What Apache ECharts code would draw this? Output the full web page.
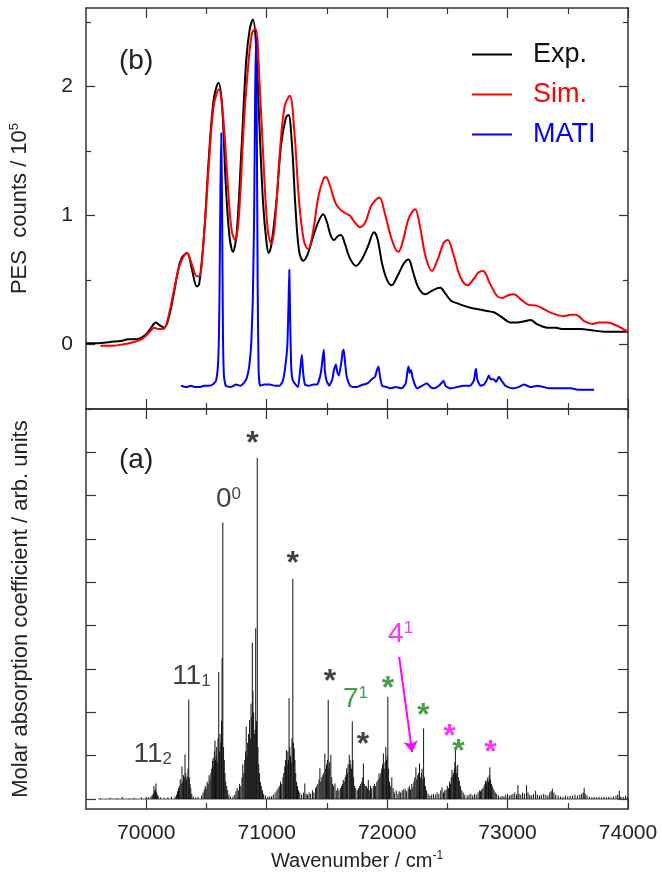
<!DOCTYPE html>
<html>
<head>
<meta charset="utf-8">
<script src="https://cdn.jsdelivr.net/npm/echarts@6/dist/echarts.min.js"></script>
<style>html,body{margin:0;padding:0;background:#fff}#c{width:662px;height:881px}</style>
</head>
<body>
<div id="c"></div>
<script>
// ---------- axis ranges & ticks ----------
const X_MIN = 69500, X_MAX = 74000;
const xMajor = [70000, 71000, 72000, 73000, 74000];
const xMinor = [70500, 71500, 72500, 73500];
const pesMajor = [0, 1, 2];
const pesMinor = [-0.5, 0.5, 1.5, 2.5];
const absTicks = [0, 1, 2, 3, 4, 5, 6, 7, 8];

// ---------- (b) PES panel ----------
const expCurve = [
[69500,0.01],[69600,0.01],[69700,0.02],[69800,0.03],[69850,0.04],[69900,0.04],[69950,0.05],[70000,0.08],[70040,0.13],[70080,0.17],[70110,0.15],[70150,0.13],
[70190,0.22],[70230,0.40],[70270,0.60],[70300,0.68],[70340,0.71],[70380,0.58],[70420,0.45],[70440,0.47],[70480,0.85],[70520,1.45],[70560,1.90],[70600,2.03],
[70630,1.85],[70660,1.25],[70690,0.85],[70720,0.72],[70750,0.85],[70790,1.50],[70830,2.20],[70860,2.45],[70886,2.52],[70910,2.35],[70940,1.70],[70970,1.10],
[71000,0.78],[71017,0.71],[71040,0.78],[71080,1.10],[71120,1.55],[71160,1.76],[71181,1.78],[71210,1.55],[71240,1.05],[71270,0.72],[71303,0.65],[71340,0.70],
[71380,0.82],[71420,0.93],[71469,1.01],[71500,0.95],[71530,0.85],[71558,0.81],[71590,0.84],[71617,0.85],[71650,0.78],[71690,0.67],[71742,0.61],[71790,0.66],
[71840,0.76],[71892,0.87],[71920,0.82],[71960,0.62],[72000,0.50],[72039,0.46],[72080,0.52],[72140,0.63],[72178,0.66],[72210,0.58],[72250,0.46],[72290,0.40],
[72317,0.39],[72360,0.41],[72400,0.43],[72442,0.44],[72480,0.40],[72530,0.34],[72581,0.32],[72640,0.30],[72719,0.28],[72780,0.27],[72830,0.26],[72886,0.25],
[72940,0.22],[73000,0.18],[73025,0.17],[73080,0.17],[73140,0.18],[73192,0.19],[73240,0.16],[73290,0.14],[73331,0.13],[73400,0.13],[73460,0.12],[73530,0.12],
[73608,0.12],[73700,0.11],[73803,0.10],[73900,0.10],[74000,0.10]
];
const simCurve = [
[69620,-0.01],[69700,-0.01],[69800,0.00],[69900,0.02],[69960,0.04],[70000,0.07],[70040,0.11],[70067,0.13],[70100,0.12],[70142,0.12],[70180,0.20],[70230,0.42],
[70280,0.62],[70339,0.71],[70380,0.62],[70420,0.53],[70440,0.53],[70480,0.85],[70520,1.40],[70560,1.85],[70603,1.98],[70640,1.75],[70680,1.20],[70710,0.88],
[70739,0.81],[70770,1.00],[70810,1.70],[70850,2.20],[70880,2.42],[70908,2.45],[70940,2.05],[70980,1.30],[71010,0.88],[71039,0.78],[71070,0.95],[71110,1.50],
[71150,1.85],[71192,1.93],[71230,1.65],[71270,1.10],[71310,0.80],[71344,0.74],[71380,0.85],[71430,1.15],[71470,1.28],[71492,1.30],[71530,1.22],[71570,1.10],
[71608,1.05],[71650,1.02],[71690,1.00],[71730,0.95],[71775,0.91],[71820,0.95],[71870,1.08],[71936,1.14],[71980,1.02],[72030,0.84],[72070,0.74],[72094,0.72],
[72130,0.80],[72180,0.98],[72233,1.05],[72270,0.93],[72320,0.68],[72372,0.57],[72420,0.66],[72470,0.79],[72503,0.81],[72550,0.70],[72610,0.52],[72669,0.46],
[72720,0.51],[72760,0.56],[72797,0.57],[72850,0.48],[72910,0.38],[72956,0.36],[73000,0.38],[73053,0.39],[73110,0.35],[73170,0.31],[73247,0.30],[73310,0.27],
[73380,0.24],[73469,0.22],[73520,0.23],[73567,0.23],[73640,0.18],[73706,0.16],[73760,0.17],[73831,0.17],[73900,0.15],[73960,0.12],[74000,0.10]
];
const matiCurve = [
[70289,-0.32],[70330,-0.33],[70370,-0.32],[70410,-0.33],[70442,-0.33],[70480,-0.32],[70520,-0.32],[70553,-0.31],[70580,-0.28],[70598,-0.12],[70608,0.35],[70616,1.20],
[70623,1.64],[70630,1.05],[70637,0.10],[70645,-0.24],[70660,-0.32],[70700,-0.33],[70747,-0.31],[70780,-0.32],[70810,-0.30],[70835,-0.26],[70855,-0.17],[70872,0.01],
[70885,0.35],[70896,1.00],[70904,1.90],[70911,2.38],[70918,1.70],[70925,0.50],[70933,-0.20],[70945,-0.32],[70980,-0.31],[71025,-0.31],[71070,-0.32],[71108,-0.32],
[71135,-0.28],[71155,-0.17],[71172,0.00],[71181,0.30],[71188,0.58],[71195,0.20],[71203,-0.15],[71214,-0.27],[71240,-0.31],[71261,-0.33],[71280,-0.18],[71292,-0.08],
[71303,-0.22],[71318,-0.31],[71350,-0.32],[71390,-0.31],[71420,-0.31],[71450,-0.22],[71468,-0.08],[71475,-0.04],[71483,-0.20],[71497,-0.28],[71520,-0.32],[71545,-0.27],
[71558,-0.20],[71575,-0.155],[71588,-0.22],[71600,-0.24],[71618,-0.15],[71632,-0.05],[71640,-0.04],[71652,-0.15],[71665,-0.25],[71692,-0.32],[71720,-0.33],[71747,-0.33],
[71775,-0.32],[71803,-0.31],[71840,-0.30],[71872,-0.27],[71900,-0.25],[71915,-0.20],[71928,-0.17],[71945,-0.27],[71960,-0.32],[72000,-0.33],[72025,-0.34],[72070,-0.33],
[72122,-0.34],[72155,-0.30],[72170,-0.20],[72178,-0.17],[72188,-0.22],[72200,-0.20],[72210,-0.25],[72230,-0.31],[72250,-0.34],[72290,-0.32],[72331,-0.30],[72360,-0.33],
[72386,-0.34],[72430,-0.32],[72460,-0.29],[72469,-0.28],[72485,-0.32],[72525,-0.34],[72580,-0.33],[72636,-0.32],[72690,-0.32],[72720,-0.28],[72734,-0.20],[72739,-0.19],
[72748,-0.27],[72775,-0.32],[72805,-0.31],[72830,-0.27],[72844,-0.24],[72860,-0.27],[72886,-0.27],[72905,-0.29],[72928,-0.25],[72950,-0.28],[72983,-0.32],[73039,-0.34],
[73090,-0.33],[73136,-0.31],[73190,-0.33],[73247,-0.32],[73300,-0.33],[73350,-0.34],[73414,-0.34],[73480,-0.34],[73530,-0.34],[73581,-0.35],[73650,-0.35],[73719,-0.35]
];

// ---------- (a) absorption stick spectrum ----------
const absSticks = [
[69620,0.02],[69700,0.03],[69760,0.02],[69800,0.05],[69860,0.02],[69900,0.03],[69960,0.04],[70000,0.05],[70020,0.04],
[70040,0.06],[70050,0.09],[70058,0.13],[70064,0.30],[70070,0.18],[70076,0.22],[70081,0.36],[70086,0.16],[70092,0.10],[70100,0.06],[70120,0.04],[70150,0.03],[70180,0.04],[70210,0.05],
[70240,0.06],[70252,0.10],[70260,0.18],[70268,0.25],[70275,0.30],[70282,0.45],[70290,0.35],[70297,0.75],[70303,0.40],[70310,0.55],[70316,0.50],[70322,1.03],[70328,0.60],[70334,0.45],[70340,0.52],[70347,0.70],[70353,2.30],[70358,0.50],[70364,0.35],[70370,0.25],[70378,0.12],[70390,0.06],[70410,0.04],[70430,0.05],
[70460,0.08],[70472,0.15],[70482,0.22],[70490,0.30],[70498,0.25],[70506,0.40],[70514,0.35],[70522,0.55],[70530,0.45],[70537,0.60],[70544,0.70],[70550,0.88],[70556,0.95],[70561,0.75],[70566,1.10],[70571,1.35],[70575,0.90],[70580,1.00],[70585,1.20],[70590,0.85],[70596,1.40],[70602,2.93],[70608,1.10],[70613,1.50],[70619,1.30],[70625,1.80],[70630,3.25],[70636,6.38],[70642,1.20],[70648,0.90],[70654,0.60],[70660,0.40],[70668,0.30],[70676,0.20],[70686,0.10],[70700,0.06],
[70720,0.06],[70735,0.10],[70745,0.18],[70755,0.25],[70765,0.20],[70775,0.35],[70785,0.30],[70795,0.50],[70802,0.80],[70810,0.60],[70818,0.90],[70825,1.10],[70830,1.67],[70836,1.00],[70842,1.30],[70850,1.50],[70858,1.82],[70864,1.40],[70870,2.20],[70876,1.90],[70881,3.61],[70886,2.50],[70892,2.00],[70898,1.50],[70904,1.60],[70909,3.94],[70915,1.80],[70922,7.87],[70928,1.20],[70934,0.80],[70940,0.60],[70948,0.40],[70956,0.30],[70965,0.20],[70975,0.12],[70990,0.08],[71010,0.05],[71025,0.06],
[71040,0.06],[71055,0.10],[71070,0.15],[71085,0.20],[71095,0.25],[71105,0.30],[71115,0.40],[71125,0.35],[71135,0.50],[71142,0.60],[71150,0.75],[71157,0.90],[71164,1.13],[71170,0.80],[71176,1.10],[71181,0.90],[71186,2.33],[71192,1.20],[71198,1.00],[71204,0.85],[71210,1.40],[71217,5.08],[71223,1.30],[71229,1.17],[71235,0.90],[71241,0.60],[71248,0.40],[71256,0.30],[71265,0.20],[71275,0.15],[71290,0.10],
[71305,0.15],[71317,0.36],[71328,0.12],[71340,0.10],[71352,0.15],[71365,0.12],[71380,0.20],[71392,0.15],[71405,0.25],[71415,0.30],[71425,0.35],[71435,0.45],
[71442,0.71],[71450,0.40],[71458,0.50],[71466,0.55],[71474,0.60],[71483,1.05],[71490,0.70],[71497,0.80],[71504,0.90],[71511,2.29],[71517,0.70],[71523,0.85],[71533,1.02],[71540,0.50],[71548,0.35],[71556,0.30],[71567,0.36],[71578,0.20],[71590,0.25],[71600,0.20],
[71612,0.25],[71622,0.30],[71630,0.35],[71636,0.44],[71644,0.40],[71652,0.50],[71658,0.55],[71664,0.71],[71670,0.60],[71676,0.80],[71686,1.02],[71692,0.90],[71698,0.80],[71705,0.70],[71711,1.79],[71716,0.90],[71722,0.50],[71730,0.30],[71740,0.25],
[71752,0.20],[71762,0.25],[71772,0.30],[71780,0.35],[71790,0.40],[71797,0.50],[71803,0.82],[71810,0.35],[71819,0.30],[71828,0.30],[71838,0.25],[71844,0.44],[71852,0.20],[71862,0.30],[71872,0.25],
[71885,0.30],[71895,0.35],[71905,0.30],[71915,0.40],[71925,0.45],[71933,0.59],[71940,0.50],[71948,0.60],[71955,0.70],[71962,0.80],[71969,1.05],[71976,0.70],[71983,0.85],[71989,1.20],[71995,0.90],[72000,1.00],[72006,2.36],[72012,0.70],[72020,0.40],[72030,0.30],[72039,0.50],[72050,0.25],
[72060,0.15],[72075,0.20],[72090,0.12],[72100,0.18],[72112,0.15],[72125,0.20],[72138,0.22],[72150,0.24],[72162,0.18],[72175,0.25],[72185,0.30],[72195,0.22],[72205,0.35],[72214,0.27],[72222,0.40],[72230,0.50],[72239,0.73],[72246,0.45],[72254,0.55],[72262,0.60],[72269,0.82],[72276,0.50],[72284,0.60],[72290,0.70],[72297,0.45],[72303,1.63],[72310,0.50],[72318,0.30],[72328,0.20],[72340,0.12],
[72355,0.08],[72370,0.10],[72385,0.12],[72400,0.10],[72415,0.15],[72430,0.12],[72445,0.20],[72456,0.27],[72468,0.15],[72478,0.20],
[72490,0.22],[72500,0.30],[72510,0.25],[72518,0.40],[72526,0.35],[72532,0.50],[72539,0.67],[72546,0.55],[72552,0.60],[72558,0.70],[72563,0.85],[72567,1.13],[72572,0.75],[72578,0.60],[72586,0.79],[72592,0.50],[72600,0.42],[72610,0.30],[72620,0.20],[72632,0.15],[72645,0.10],
[72665,0.08],[72680,0.10],[72695,0.12],[72710,0.08],[72725,0.12],[72740,0.10],[72755,0.15],[72768,0.20],
[72775,0.18],[72785,0.22],[72795,0.25],[72805,0.30],[72812,0.35],[72817,0.42],[72824,0.38],[72830,0.45],[72836,0.50],[72842,0.40],[72848,0.55],[72853,0.73],[72859,0.45],[72866,0.35],[72872,0.30],[72880,0.25],[72888,0.20],[72898,0.15],[72910,0.12],[72925,0.08],
[72940,0.05],[72955,0.07],[72970,0.06],[72985,0.10],[73000,0.12],[73015,0.08],[73030,0.10],[73045,0.12],[73060,0.15],[73075,0.10],[73086,0.32],[73095,0.12],[73110,0.10],[73125,0.15],[73140,0.12],[73158,0.32],[73170,0.15],[73185,0.10],[73200,0.08],[73215,0.12],[73233,0.19],[73248,0.10],[73265,0.08],[73280,0.10],[73300,0.12],[73318,0.10],[73335,0.08],[73350,0.15],[73362,0.18],[73372,0.24],[73385,0.15],[73400,0.10],[73420,0.08],[73440,0.06],[73460,0.05],[73480,0.08],[73500,0.06],[73520,0.07],[73540,0.08],[73560,0.10],[73580,0.08],[73600,0.10],[73615,0.12],[73628,0.15],[73636,0.26],[73645,0.12],[73660,0.08],[73680,0.05],[73700,0.04],[73720,0.05],[73740,0.04],[73760,0.05],[73780,0.04],[73800,0.05],[73820,0.04],[73840,0.05],[73860,0.04],[73880,0.06],[73900,0.08],[73915,0.10],[73928,0.19],[73940,0.06],[73960,0.05],[73980,0.08],[73995,0.05]
];
const absBaseline = [[69600, 0], [74000, 0]];

// ---------- annotations in panel (a) ----------
const annoPos = [[70054,1.04],[70375,2.84],[70683,6.91],[70883,8.29],[71217,5.52],[71525,2.79],[71737,2.31],[71800,1.34],[72008,2.63],[72112,3.81],[72300,2.00],[72517,1.52],[72592,1.18],[72858,1.15]];
const annoText = ['11{sub|2}','11{sub|1}','0{sup|0}','*','*','*','7{sup|1}','*','*','4{sup|1}','*','*','*','*'];
const annoColor = ['#111','#111','#111','#111','#111','#111','#118a11','#111','#118a11','#ff00ff','#118a11','#ff00ff','#118a11','#ff00ff'];
const arrow41 = [[72100, 3.28], [72208, 1.08]];

const FONT = 'Liberation Sans, Arial, Helvetica, sans-serif';
const AX = '#333';

function xAxis(grid, pos, ticks, len, showLine, extra) {
  return Object.assign({
    type: 'value', gridIndex: grid, position: pos, min: X_MIN, max: X_MAX,
    axisLine: { show: showLine, onZero: false, lineStyle: { color: AX, width: 1.5 } },
    axisTick: { show: true, inside: true, length: len, customValues: ticks, lineStyle: { color: AX, width: 1.2 } },
    axisLabel: { show: false }, splitLine: { show: false }
  }, extra || {});
}
function yAxis(grid, pos, min, max, ticks, len, showLine, extra) {
  return Object.assign({
    type: 'value', gridIndex: grid, position: pos, min: min, max: max,
    axisLine: { show: showLine, onZero: false, lineStyle: { color: AX, width: 1.5 } },
    axisTick: { show: true, inside: true, length: len, customValues: ticks, lineStyle: { color: AX, width: 1.2 } },
    axisLabel: { show: false }, splitLine: { show: false }
  }, extra || {});
}

const chart = echarts.init(document.getElementById('c'), null, { renderer: 'canvas' });

const annoData = annoPos.map((p, i) => {
  const star = annoText[i] === '*';
  return {
    value: p,
    label: {
      color: annoColor[i], formatter: annoText[i],
      fontWeight: star ? 'bold' : 'normal',
      fontSize: star ? 32 : 28,
      offset: star ? [0, 4] : [0, 0]
    }
  };
});

chart.setOption({
  animation: false,
  backgroundColor: '#fff',
  textStyle: { fontFamily: FONT },
  title: [
    { text: '(b)', left: 114, top: 42, textStyle: { fontFamily: FONT, fontSize: 28, fontWeight: 'normal', color: '#222' } },
    { text: '(a)', left: 114, top: 441, textStyle: { fontFamily: FONT, fontSize: 28, fontWeight: 'normal', color: '#222' } }
  ],
  legend: {
    orient: 'vertical', left: 467, top: 36, itemWidth: 40, itemHeight: 2, itemGap: 13, icon: 'rect',
    textStyle: { fontFamily: FONT, fontSize: 27, padding: [0, 0, 0, 16] },
    data: [
      { name: 'Exp.', textStyle: { color: '#111' } },
      { name: 'Sim.', textStyle: { color: '#ff0000' } },
      { name: 'MATI', textStyle: { color: '#0000ff' } }
    ]
  },
  grid: [
    { left: 86, right: 34, top: 8, height: 401 },
    { left: 86, right: 34, top: 409, height: 400 }
  ],
  xAxis: [
    xAxis(0, 'bottom', xMajor, 10, true),
    xAxis(0, 'bottom', xMinor, 6, false),
    xAxis(0, 'top', xMajor, 10, true),
    xAxis(0, 'top', xMinor, 6, false),
    xAxis(1, 'bottom', xMajor, 10, true, {
      axisLabel: { show: true, customValues: xMajor, fontSize: 21, margin: 14, color: '#222', fontFamily: FONT, formatter: v => String(v) },
      name: 'Wavenumber / cm{sup|-1}', nameLocation: 'middle', nameGap: 41,
      nameTextStyle: { fontFamily: FONT, fontSize: 20, color: '#222', lineHeight: 22, rich: { sup: { fontSize: 12, lineHeight: 12, verticalAlign: 'top', color: '#222' } } }
    }),
    xAxis(1, 'bottom', xMinor, 6, false),
    xAxis(1, 'top', xMajor, 10, true),
    xAxis(1, 'top', xMinor, 6, false)
  ],
  yAxis: [
    yAxis(0, 'left', -0.5, 2.61, pesMajor, 9, true, {
      axisLabel: { show: true, customValues: pesMajor, fontSize: 21, margin: 13, color: '#222', fontFamily: FONT, formatter: v => String(v) },
      name: 'PES  counts / 10{sup|5}', nameLocation: 'middle', nameGap: 54,
      nameTextStyle: { fontFamily: FONT, fontSize: 22, color: '#222', lineHeight: 24, rich: { sup: { fontSize: 13, lineHeight: 13, verticalAlign: 'top', color: '#222' } } }
    }),
    yAxis(0, 'left', -0.5, 2.61, pesMinor, 5, false),
    yAxis(0, 'right', -0.5, 2.61, pesMajor, 9, true),
    yAxis(0, 'right', -0.5, 2.61, pesMinor, 5, false),
    yAxis(1, 'left', -0.23, 9.0, absTicks, 10, true, {
      name: 'Molar absorption coefficient / arb. units', nameLocation: 'middle', nameGap: 54,
      nameTextStyle: { fontFamily: FONT, fontSize: 22, color: '#222' }
    }),
    yAxis(1, 'right', -0.23, 9.0, absTicks, 10, true)
  ],
  series: [
    { name: 'Exp.', type: 'line', xAxisIndex: 0, yAxisIndex: 0, data: expCurve, color: '#000000', showSymbol: false, symbol: 'none', smooth: 0.35, lineStyle: { width: 2, color: '#000000' }, z: 2 },
    { name: 'Sim.', type: 'line', xAxisIndex: 0, yAxisIndex: 0, data: simCurve, color: '#ff0000', showSymbol: false, symbol: 'none', smooth: 0.35, lineStyle: { width: 2, color: '#ff0000' }, z: 3 },
    { name: 'MATI', type: 'line', xAxisIndex: 0, yAxisIndex: 0, data: matiCurve, color: '#0000ff', showSymbol: false, symbol: 'none', smooth: 0.15, lineStyle: { width: 2, color: '#0000ff' }, z: 4 },
    { name: 'baseline', type: 'line', xAxisIndex: 4, yAxisIndex: 4, data: absBaseline, showSymbol: false, symbol: 'none', lineStyle: { width: 1, color: '#555' }, z: 1 },
    {
      name: 'absorption', type: 'custom', xAxisIndex: 4, yAxisIndex: 4, data: absSticks, z: 2,
      renderItem: function (params, api) {
        const x = api.value(0), h = api.value(1);
        const p0 = api.coord([x, 0]), p1 = api.coord([x, h]);
        return { type: 'line', shape: { x1: p0[0], y1: p0[1], x2: p1[0], y2: p1[1] }, style: { stroke: '#111', lineWidth: 1 } };
      }
    },
    {
      name: 'labels', type: 'scatter', xAxisIndex: 4, yAxisIndex: 4, symbolSize: 0, data: annoData, z: 5,
      label: {
        show: true, position: 'inside', align: 'center', verticalAlign: 'middle', fontFamily: FONT, fontSize: 28,
        rich: {
          sub: { fontSize: 17, lineHeight: 16, verticalAlign: 'bottom' },
          sup: { fontSize: 17, lineHeight: 14, verticalAlign: 'top' }
        }
      }
    },
    {
      name: 'arrow', type: 'lines', coordinateSystem: 'cartesian2d', xAxisIndex: 4, yAxisIndex: 4, z: 5,
      symbol: ['none', 'arrow'], symbolSize: 11,
      lineStyle: { color: '#ff00ff', width: 2, opacity: 1 },
      data: [{ coords: arrow41 }]
    }
  ]
});
</script>
</body>
</html>
